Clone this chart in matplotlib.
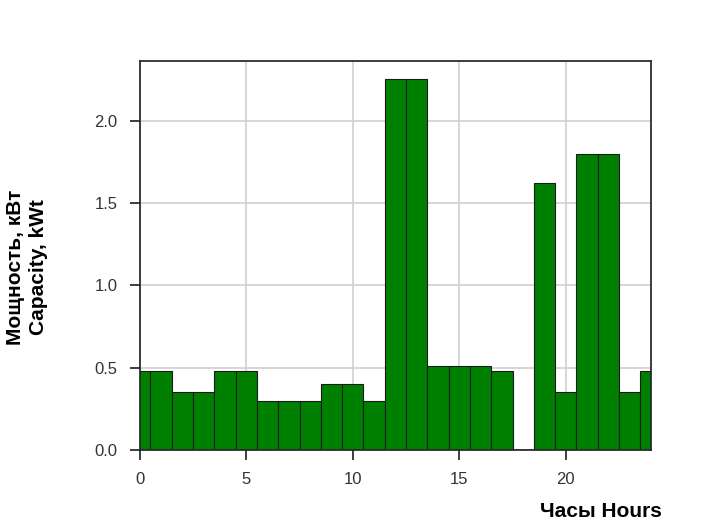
import numpy as np
from matplotlib import pyplot as plt

hours = list(range(25))
power = [0.48, 0.48, 0.35, 0.35, 0.48, 0.48, 0.30, 0.30, 0.30, 0.40, 0.40, 0.30,
         2.25, 2.25, 0.51, 0.51, 0.51, 0.48, 0.0, 1.62, 0.35, 1.80, 1.80, 0.35, 0.48]

label_font = ['Liberation Sans Narrow', 'Liberation Sans', 'DejaVu Sans']
plt.rcParams['font.family'] = ['Liberation Sans', 'DejaVu Sans']

fig = plt.figure(figsize=(7.17, 5.21), dpi=100)
ax = fig.add_axes([0.195, 0.136, 0.713, 0.747])

ax.bar(hours, power, width=1.0, color='green', edgecolor='#1a1a1a', linewidth=0.8, zorder=2)
ax.set_xlim(0, 24)
ax.set_xticks([0, 5, 10, 15, 20])
ax.set_yticks([0.0, 0.5, 1.0, 1.5, 2.0])
ax.grid(True, color='#cccccc', linewidth=1.1, zorder=0)
ax.set_axisbelow(True)

for s in ax.spines.values():
    s.set_color('#262626')
    s.set_linewidth(1.25)
ax.tick_params(direction='out', length=7, width=1.25, color='#262626',
               labelsize=12, labelcolor='#333333', pad=9)

ax.set_ylabel('Мощность, кВт\nCapacity, kWt', family=label_font, fontweight='bold',
              fontsize=15, linespacing=1.25)
ax.yaxis.set_label_coords(-0.18, 0.47)
ax.set_xlabel('Часы Hours', family=label_font, fontweight='bold', fontsize=15, loc='right')
ax.xaxis.set_label_coords(1.022, -0.132)

plt.savefig('out.png', dpi=100)
